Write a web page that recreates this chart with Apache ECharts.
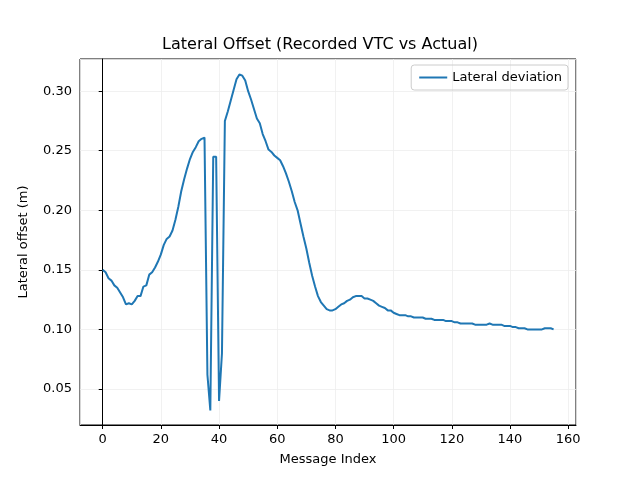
<!DOCTYPE html>
<html><head><meta charset="utf-8">
<script src="https://cdn.jsdelivr.net/npm/echarts@6/dist/echarts.min.js"></script>
<style>html,body{margin:0;background:#fff}#c{width:640px;height:480px}</style>
</head><body><div id="c"></div>
<script>
// lateral deviation per message index
var offsets = [
0.150,0.148,0.143,0.141,0.137,0.135,0.131,0.127,0.121,0.122,
0.121,0.124,0.128,0.128,0.136,0.137,0.146,0.148,0.152,0.157,
0.163,0.171,0.176,0.178,0.183,0.192,0.203,0.216,0.226,0.235,
0.243,0.249,0.253,0.258,0.260,0.261,0.062,0.032,0.245,0.245,
0.040,0.080,0.275,0.283,0.292,0.301,0.310,0.314,0.313,0.309,
0.300,0.293,0.285,0.277,0.273,0.264,0.258,0.251,0.249,0.246,
0.244,0.242,0.237,0.231,0.224,0.216,0.207,0.200,0.189,0.178,
0.168,0.156,0.145,0.136,0.128,0.123,0.120,0.117,0.116,0.116,
0.117,0.119,0.121,0.122,0.124,0.125,0.127,0.128,0.128,0.128,
0.126,0.126,0.125,0.124,0.122,0.120,0.119,0.118,0.116,0.116,
0.114,0.113,0.112,0.112,0.112,0.111,0.111,0.110,0.110,0.110,
0.110,0.109,0.109,0.109,0.108,0.108,0.108,0.108,0.107,0.107,
0.107,0.106,0.106,0.105,0.105,0.105,0.105,0.105,0.104,0.104,
0.104,0.104,0.104,0.105,0.104,0.104,0.104,0.104,0.103,0.103,
0.103,0.102,0.102,0.101,0.101,0.101,0.100,0.100,0.100,0.100,
0.100,0.100,0.101,0.101,0.101,0.100
];
var points = offsets.map(function(v,i){return [i,v];});

var myChart = echarts.init(document.getElementById('c'));
var axisText = {color:'#000', fontSize:13, fontFamily:'DejaVu Sans'};
var option = {
    animation:false,
    title:{text:'Lateral Offset (Recorded VTC vs Actual)', left:'center', top:32,
        textStyle:{fontFamily:'DejaVu Sans', fontSize:16, fontWeight:'normal', color:'#000'}},
    legend:{data:['Lateral deviation'], right:72, top:65, orient:'vertical',
        itemWidth:28, itemHeight:2, icon:'rect', itemGap:8,
        borderColor:'#ccc', borderWidth:1, borderRadius:3, padding:[6,6,6,8],
        textStyle:{fontFamily:'DejaVu Sans', fontSize:13, color:'#000'}},
    grid:{left:80, right:64, top:59, bottom:55, show:true, borderColor:'#000', borderWidth:1},
    xAxis:{type:'value', min:-7.8, max:162.7, splitNumber:8,
        name:'Message Index', nameLocation:'middle', nameGap:28, nameTextStyle:axisText,
        axisLine:{show:true, lineStyle:{color:'#000'}},
        axisTick:{show:true, inside:false, length:4, lineStyle:{color:'#000'}},
        axisLabel:Object.assign({showMinLabel:false, showMaxLabel:false}, axisText),
        splitLine:{show:true, lineStyle:{color:'#eee', width:0.8}}},
    yAxis:{type:'value', min:0.0198, max:0.327, splitNumber:6,
        name:'Lateral offset (m)', nameLocation:'middle', nameGap:50, nameTextStyle:axisText,
        axisLine:{show:true, lineStyle:{color:'#000'}},
        axisTick:{show:true, inside:false, length:4, lineStyle:{color:'#000'}},
        axisLabel:Object.assign({showMinLabel:false, showMaxLabel:false,
            formatter:function(v){return v.toFixed(2);}}, axisText),
        splitLine:{show:true, lineStyle:{color:'#eee', width:0.8}}},
    series:[{name:'Lateral deviation', type:'line', data:points, showSymbol:false,
        lineStyle:{color:'#1f77b4', width:2}, itemStyle:{color:'#1f77b4'}}]
};
myChart.setOption(option);
</script></body></html>
